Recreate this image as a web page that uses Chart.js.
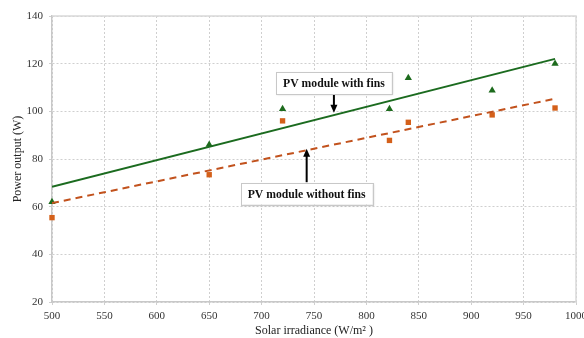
<!DOCTYPE html>
<html>
<head>
<meta charset="utf-8">
<script src="https://cdn.jsdelivr.net/npm/chart.js@4.4.1/dist/chart.umd.min.js"></script>
<style>
  html, body { margin: 0; padding: 0; background: #fff; }
  #wrap { width: 584px; height: 338px; }
</style>
</head>
<body>
<div id="wrap"><canvas id="myChart" width="584" height="338"></canvas></div>
<script>
// Data
var irradiance = [500, 650, 720, 822, 840, 920, 980];
var powerWithFins = [62, 86, 101, 101, 114, 108.8, 120];
var powerWithoutFins = [55.4, 73.4, 96, 87.8, 95.4, 98.5, 101.4];

// linear trend lines (end points)
var trendX = [500, 980];
var trendWithFins = [68.3, 122];
var trendWithoutFins = [61.5, 105.3];

var SERIF = "'Liberation Serif', 'Times New Roman', serif";

function pts(xs, ys) {
    return xs.map(function (x, i) { return { x: x, y: ys[i] }; });
}

// Callout boxes with arrows (positions in data units)
var callouts = [
    { text: 'PV module with fins', x: 769, y: 111.8, arrowFrom: 107.1, arrowTo: 99.4 },
    { text: 'PV module without fins', x: 743, y: 65.5, arrowFrom: 70.2, arrowTo: 84.3 }
];

var framePlugin = {
    id: 'frame',
    beforeDatasetsDraw: function (chart) {
        var a = chart.chartArea, ctx = chart.ctx;
        ctx.save();
        ctx.strokeStyle = '#d9d9d9';
        ctx.lineWidth = 1.5;
        ctx.beginPath();
        ctx.moveTo(a.left, a.top);
        ctx.lineTo(a.right, a.top);
        ctx.lineTo(a.right, a.bottom);
        ctx.stroke();
        ctx.restore();
    }
};

var calloutPlugin = {
    id: 'callouts',
    afterDatasetsDraw: function (chart) {
        var ctx = chart.ctx, xs = chart.scales.x, ys = chart.scales.y;
        ctx.save();
        ctx.font = 'bold 11.7px ' + SERIF;
        callouts.forEach(function (c) {
            var cx = xs.getPixelForValue(c.x), cy = ys.getPixelForValue(c.y);
            var w = ctx.measureText(c.text).width + 14, h = 22;
            // arrow
            var y1 = ys.getPixelForValue(c.arrowFrom), y2 = ys.getPixelForValue(c.arrowTo);
            var dir = y2 > y1 ? 1 : -1;
            ctx.strokeStyle = '#000';
            ctx.fillStyle = '#000';
            ctx.lineWidth = 2;
            ctx.beginPath();
            ctx.moveTo(cx, y1);
            ctx.lineTo(cx, y2 - dir * 6);
            ctx.stroke();
            ctx.beginPath();
            ctx.moveTo(cx, y2);
            ctx.lineTo(cx - 3.5, y2 - dir * 8);
            ctx.lineTo(cx + 3.5, y2 - dir * 8);
            ctx.closePath();
            ctx.fill();
            // box
            ctx.shadowColor = 'rgba(0,0,0,0.15)';
            ctx.shadowBlur = 2;
            ctx.shadowOffsetX = 1;
            ctx.shadowOffsetY = 1;
            ctx.fillStyle = '#fff';
            ctx.fillRect(cx - w / 2, cy - h / 2, w, h);
            ctx.shadowColor = 'transparent';
            ctx.strokeStyle = '#c8c8c8';
            ctx.lineWidth = 1;
            ctx.strokeRect(Math.round(cx - w / 2) + 0.5, Math.round(cy - h / 2) + 0.5, Math.round(w), h);
            ctx.fillStyle = '#111';
            ctx.textAlign = 'center';
            ctx.textBaseline = 'middle';
            ctx.fillText(c.text, cx, cy + 1);
        });
        ctx.restore();
    }
};

new Chart("myChart", {
    type: "scatter",
    data: {
        datasets: [{
            type: 'line',
            label: 'Trend with fins',
            data: pts(trendX, trendWithFins),
            borderColor: '#1b6b1f',
            borderWidth: 2,
            pointRadius: 0,
            fill: false
        }, {
            type: 'line',
            label: 'Trend without fins',
            data: pts(trendX, trendWithoutFins),
            borderColor: '#c2521d',
            borderWidth: 2,
            borderDash: [7, 5],
            pointRadius: 0,
            fill: false
        }, {
            label: 'PV module with fins',
            data: pts(irradiance, powerWithFins),
            pointStyle: 'triangle',
            radius: 4.2,
            backgroundColor: '#1d6b1d',
            borderColor: '#1d6b1d',
            borderWidth: 0,
            clip: false
        }, {
            label: 'PV module without fins',
            data: pts(irradiance, powerWithoutFins),
            pointStyle: 'rect',
            radius: 3.8,
            backgroundColor: '#d4601a',
            borderColor: '#d4601a',
            borderWidth: 0,
            clip: false
        }]
    },
    options: {
        responsive: false,
        animation: false,
        layout: { padding: { top: 16, right: 8, left: 0, bottom: 0 } },
        plugins: {
            legend: { display: false },
            tooltip: { enabled: false }
        },
        scales: {
            x: {
                type: 'linear',
                min: 500,
                max: 1000,
                ticks: {
                    stepSize: 50,
                    padding: 5,
                    color: '#333',
                    font: { family: SERIF, size: 11 },
                    callback: function (v) { return String(v); }
                },
                grid: { color: '#cfcfcf', lineWidth: 1, tickLength: 3 },
                border: { color: '#c8c8c8', width: 1.5, dash: [2, 2] },
                title: {
                    display: true,
                    text: 'Solar irradiance (W/m² )',
                    color: '#222',
                    font: { family: SERIF, size: 12 },
                    padding: { top: 0, bottom: 0 }
                },
                afterFit: function (s) {
                    s.height = 36;
                    s.paddingLeft = 0;
                    s.paddingRight = 0;
                }
            },
            y: {
                min: 20,
                max: 140,
                ticks: {
                    stepSize: 20,
                    padding: 6,
                    color: '#333',
                    font: { family: SERIF, size: 11 }
                },
                grid: { color: '#cfcfcf', lineWidth: 1, tickLength: 3 },
                border: { color: '#c8c8c8', width: 1.5, dash: [2, 2] },
                title: {
                    display: true,
                    text: 'Power output (W)',
                    color: '#222',
                    font: { family: SERIF, size: 12 },
                    padding: { top: 11, bottom: 0 }
                },
                afterFit: function (s) {
                    s.width = 52;
                    s.paddingTop = 0;
                    s.paddingBottom = 0;
                }
            }
        }
    },
    plugins: [framePlugin, calloutPlugin]
});
</script>
</body>
</html>
